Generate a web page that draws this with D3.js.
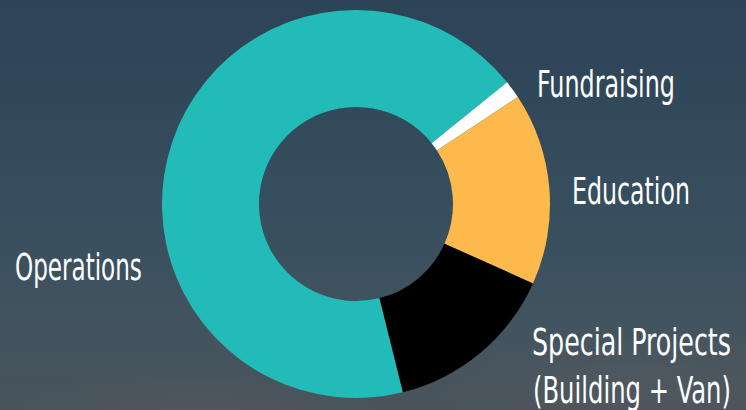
<!DOCTYPE html>
<html>
<head>
<meta charset="utf-8">
<script src="https://cdn.jsdelivr.net/npm/d3@7"></script>
<style>
  html, body { margin: 0; padding: 0; background: #33495a; }
  svg { display: block; }
</style>
</head>
<body>
<svg id="chart" width="746" height="410"></svg>
<script>
// Data
const categories = ["Operations", "Fundraising", "Education", "Special Projects"];
const values = [68.1, 1.5, 16.0, 14.4];
const colors = ["#23bbb8", "#ffffff", "#fdb94c", "#000000"];
const labelLines = [["Operations"], ["Fundraising"], ["Education"], ["Special Projects", "(Building + Van)"]];

const W = 746, H = 410;
const svg = d3.select("#chart");

// Background
const defs = svg.append("defs");
const bg = defs.append("linearGradient").attr("id", "bg").attr("x1", 0).attr("y1", 0).attr("x2", 0).attr("y2", 1);
bg.append("stop").attr("offset", "0%").attr("stop-color", "#2d4356");
bg.append("stop").attr("offset", "50%").attr("stop-color", "#364e5e");
bg.append("stop").attr("offset", "80%").attr("stop-color", "#42545f");
bg.append("stop").attr("offset", "100%").attr("stop-color", "#4a535b");
svg.append("rect").attr("width", W).attr("height", H).attr("fill", "url(#bg)");
const cloud = defs.append("radialGradient").attr("id", "cloud");
cloud.append("stop").attr("offset", "0%").attr("stop-color", "#575c61").attr("stop-opacity", 0.5);
cloud.append("stop").attr("offset", "100%").attr("stop-color", "#575c61").attr("stop-opacity", 0);
svg.append("ellipse").attr("cx", 640).attr("cy", 385).attr("rx", 220).attr("ry", 60).attr("fill", "url(#cloud)");
svg.append("ellipse").attr("cx", 200).attr("cy", 420).attr("rx", 200).attr("ry", 50).attr("fill", "url(#cloud)");

// Donut
const cx = 356, cy = 204, R = 194, r = 97;
const start = 166 * Math.PI / 180;
const pie = d3.pie().sort(null).startAngle(start).endAngle(start + 2 * Math.PI);
const arc = d3.arc().innerRadius(r).outerRadius(R);
const g = svg.append("g").attr("transform", `translate(${cx},${cy})`);
g.selectAll("path").data(pie(values)).join("path")
  .attr("d", arc)
  .attr("fill", (d, i) => colors[i]);

// Labels
const labelPos = [
  { x: 15, y: 280, w: [127] },
  { x: 537, y: 97, w: [138] },
  { x: 572, y: 204, w: [118] },
  { x: 532, y: 355, w: [199, 198], dy: 48 }
];
const fontFamily = "'Liberation Sans Narrow', 'DejaVu Sans Condensed', 'Roboto Condensed', 'Liberation Sans', sans-serif";
labelLines.forEach((lines, i) => {
  const p = labelPos[i];
  lines.forEach((t, j) => {
    const x = p.x + (j ? 1 : 0), y = p.y + j * (p.dy || 0);
    const txt = svg.append("text")
      .attr("x", 0)
      .attr("y", 0)
      .attr("fill", "#ffffff")
      .attr("font-family", fontFamily)
      .attr("font-size", 38)
      .attr("font-weight", 500)
      .text(t);
    const nat = txt.node().getComputedTextLength();
    txt.attr("transform", `translate(${x},${y}) scale(${p.w[j] / nat},1)`);
  });
});
</script>
</body>
</html>
